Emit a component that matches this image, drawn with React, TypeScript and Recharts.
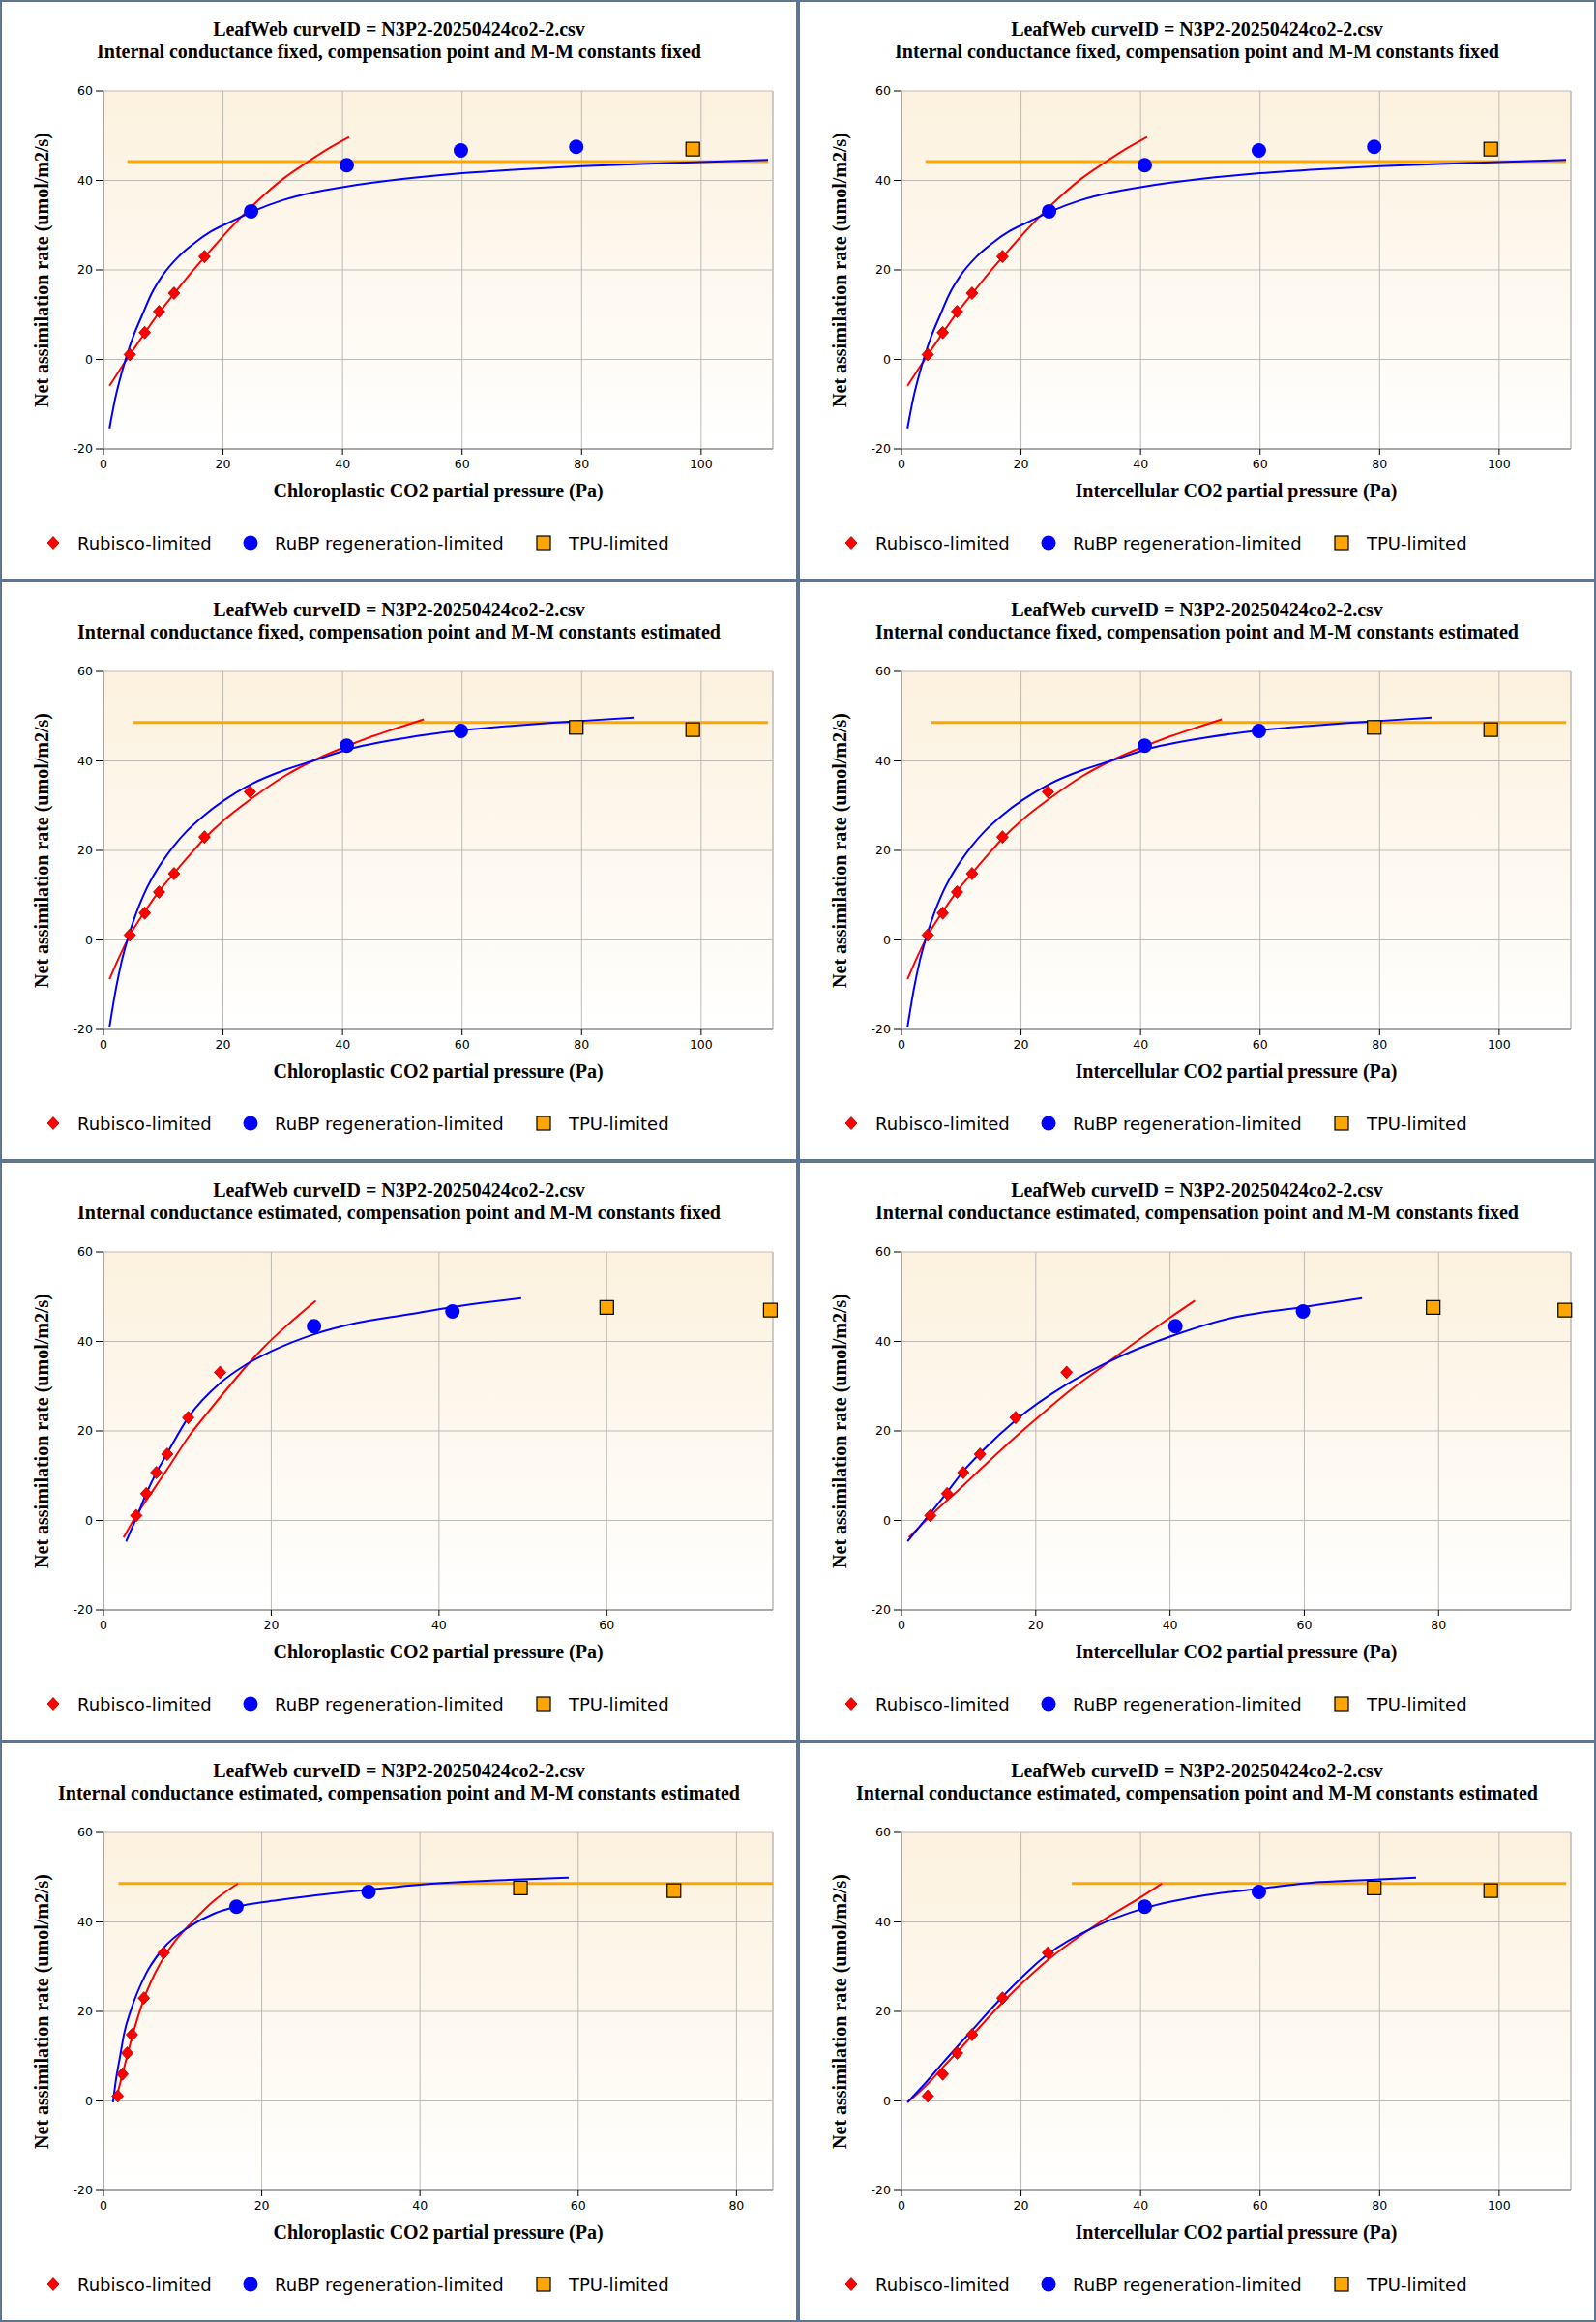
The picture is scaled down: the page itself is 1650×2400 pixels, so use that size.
import { ComposedChart, Line, Scatter, XAxis, YAxis, CartesianGrid, ReferenceLine } from 'recharts'

document.body.style.margin = '0'

type XY = [number, number]

// ---- titles / labels ----
const TITLE = 'LeafWeb curveID = N3P2-20250424co2-2.csv'
const SUB_FIX_FIX = 'Internal conductance fixed, compensation point and M-M constants fixed'
const SUB_FIX_EST = 'Internal conductance fixed, compensation point and M-M constants estimated'
const SUB_EST_FIX = 'Internal conductance estimated, compensation point and M-M constants fixed'
const SUB_EST_EST = 'Internal conductance estimated, compensation point and M-M constants estimated'
const X_CC = 'Chloroplastic CO2 partial pressure (Pa)'
const X_CI = 'Intercellular CO2 partial pressure (Pa)'
const Y_LABEL = 'Net assimilation rate (umol/m2/s)'
const LEGEND_LABELS = ['Rubisco-limited', 'RuBP regeneration-limited', 'TPU-limited']

// ---- ticks ----
const yTicks = [-20, 0, 20, 40, 60]
const ticks100 = [0, 20, 40, 60, 80, 100]
const ticks80 = [0, 20, 40, 60, 80]
const ticks60 = [0, 20, 40, 60]

// ---- gm fixed, constants fixed (Cc and Ci panels look the same) ----
const ffRubPts: XY[] = [[4.4, 1.1], [6.9, 6.0], [9.3, 10.7], [11.8, 14.8], [16.9, 23.0]]
const ffRubpPts: XY[] = [[24.7, 33.1], [40.7, 43.4], [59.8, 46.7], [79.1, 47.5]]
const ffTpuPts: XY[] = [[98.6, 47.0]]
const ffRubCurve: XY[] = [[1, -5.9], [3, -1.8], [5, 2.2], [7, 6.1], [9, 9.9], [12, 15.0], [15, 19.9], [18, 24.5], [21, 29.0], [24, 33.1], [27, 36.9], [30, 40.3], [34, 44.0], [37.5, 47.0], [41.1, 49.7]]
const ffRubpCurve: XY[] = [[1, -15.4], [2, -8.5], [3, -3.2], [4, 1.3], [5, 5.2], [6.5, 10], [8, 14.6], [10, 19], [12.5, 22.9], [15, 25.8], [18, 28.6], [22, 31.2], [25, 33.1], [30, 35.6], [35, 37.3], [40, 38.5], [50, 40.3], [60, 41.6], [70, 42.5], [80, 43.2], [90, 43.7], [100, 44.1], [111.2, 44.6]]
const ffTpuLine: XY[] = [[4.0, 44.2], [111.2, 44.2]]

// ---- gm fixed, constants estimated ----
const feRubPts: XY[] = [[4.4, 1.1], [6.9, 6.0], [9.3, 10.7], [11.8, 14.8], [16.9, 23.0], [24.5, 33.1]]
const feRubpPts: XY[] = [[40.7, 43.4], [59.8, 46.7]]
const feTpuPts: XY[] = [[79.1, 47.5], [98.6, 47.0]]
const feRubCurve: XY[] = [[1, -8.8], [2.5, -4.2], [4.4, 1.0], [6.9, 6.3], [9.3, 10.9], [11.8, 14.9], [14.5, 19.1], [17, 22.8], [20, 26.6], [24.7, 31.5], [30.4, 36.7], [35, 40.0], [40.7, 43.3], [45, 45.5], [49, 47.3], [53.6, 49.3]]
const feRubpCurve: XY[] = [[1, -19.5], [2, -11.5], [3, -5.0], [4, 0], [5, 4.2], [6, 7.8], [7, 10.9], [8.3, 14.2], [10, 17.8], [11.7, 20.9], [14, 24.4], [16.8, 27.8], [20.2, 31.2], [24.7, 34.8], [30.4, 38.0], [35.5, 40.2], [40.7, 42.5], [50.8, 45.2], [59.8, 46.8], [67.8, 47.8], [74.6, 48.5], [80.6, 49.0], [88.7, 49.7]]
const feTpuLine: XY[] = [[5.0, 48.6], [111.2, 48.6]]

// ---- gm estimated, constants fixed, Cc ----
const efCcRubPts: XY[] = [[3.9, 1.1], [5.1, 6.0], [6.3, 10.7], [7.6, 14.8], [10.1, 23.0], [13.9, 33.1]]
const efCcRubpPts: XY[] = [[25.1, 43.4], [41.6, 46.7]]
const efCcTpuPts: XY[] = [[60.0, 47.6], [79.5, 47.0]]
const efCcRubCurve: XY[] = [[2.4, -3.8], [3.9, 1.1], [6, 7.0], [8, 12.6], [10.1, 18.6], [12.5, 24.3], [15, 30.0], [16.8, 34.0], [19, 38.5], [22, 43.8], [25.3, 49.1]]
const efCcRubpCurve: XY[] = [[2.7, -4.7], [3.9, 0.5], [5.1, 6.0], [6.3, 10.7], [7.6, 15.0], [10.1, 23.0], [13.9, 30.7], [16.8, 34.6], [20, 37.8], [25.1, 41.6], [30.1, 44.1], [36.2, 46.0], [41.6, 47.7], [49.8, 49.7]]

// ---- gm estimated, constants fixed, Ci ----
const efCiRubPts: XY[] = [[4.3, 1.1], [6.8, 6.0], [9.2, 10.7], [11.7, 14.8], [17.0, 23.0], [24.6, 33.1]]
const efCiRubpPts: XY[] = [[40.8, 43.4], [59.8, 46.7]]
const efCiTpuPts: XY[] = [[79.2, 47.6], [98.8, 47.0]]
const efCiRubCurve: XY[] = [[1.1, -3.8], [4.3, 1.0], [9.2, 7.8], [13, 13.2], [17, 18.7], [21, 23.9], [25, 28.9], [30.1, 34.6], [35, 40.0], [39.5, 44.8], [43.7, 49.1]]
const efCiRubpCurve: XY[] = [[0.9, -4.7], [4.3, 1.6], [6.8, 6.3], [9.2, 11.0], [11.7, 15.0], [17.0, 22.4], [24.6, 30.4], [30.1, 34.9], [40.8, 41.5], [49, 45.2], [59.8, 47.7], [68.6, 49.7]]

// ---- gm estimated, constants estimated, Cc ----
const eeCcRubPts: XY[] = [[1.8, 1.1], [2.4, 6.0], [3.0, 10.7], [3.6, 14.8], [5.1, 23.0], [7.6, 33.1]]
const eeCcRubpPts: XY[] = [[16.8, 43.4], [33.5, 46.7]]
const eeCcTpuPts: XY[] = [[52.7, 47.6], [72.1, 47.0]]
const eeCcRubCurve: XY[] = [[1.6, 0.5], [2.4, 6.0], [3.0, 10.2], [3.6, 14.2], [5.1, 22.8], [6.2, 27.4], [7.6, 32.0], [9.4, 36.5], [11.1, 39.8], [14.0, 44.8], [17.0, 48.6]]
const eeCcRubpCurve: XY[] = [[1.2, -0.3], [1.6, 5.0], [2.1, 10.0], [2.6, 15.0], [3.5, 20.5], [5.3, 28.2], [7.5, 34.0], [10.9, 39.0], [14.0, 41.9], [16.8, 43.4], [22.3, 44.9], [28.7, 46.3], [33.5, 47.2], [40.3, 48.4], [51.2, 49.4], [58.8, 49.9]]
const eeCcTpuLine: XY[] = [[1.9, 48.6], [84.6, 48.6]]

// ---- gm estimated, constants estimated, Ci ----
const eeCiRubPts: XY[] = [[4.4, 1.1], [6.9, 6.0], [9.3, 10.7], [11.8, 14.8], [16.9, 23.0], [24.5, 33.1]]
const eeCiRubpPts: XY[] = [[40.7, 43.4], [59.8, 46.7]]
const eeCiTpuPts: XY[] = [[79.1, 47.6], [98.6, 47.0]]
const eeCiRubCurve: XY[] = [[1.0, -0.3], [4.4, 3.8], [6.9, 7.5], [9.3, 10.9], [11.8, 14.6], [16.9, 22.0], [24.5, 31.5], [32.5, 39.3], [40.7, 46.1], [43.6, 48.6]]
const eeCiRubpCurve: XY[] = [[1.0, -0.3], [4.4, 4.6], [6.9, 8.5], [9.3, 12.1], [11.8, 15.8], [16.9, 23.3], [24.5, 32.8], [32.5, 39.0], [40.7, 43.1], [50, 45.8], [59.8, 47.4], [70, 48.9], [80, 49.5], [86.1, 49.9]]
const eeCiTpuLine: XY[] = [[28.5, 48.6], [111.2, 48.6]]

interface PanelCfg {
  sub: string
  xLabel: string
  xMax: number
  xTicks: number[]
  rubPts: XY[]
  rubpPts: XY[]
  tpuPts: XY[]
  rubCurve: XY[]
  rubpCurve: XY[]
  tpuLine?: XY[]
}

const PANELS: PanelCfg[] = [
  { sub: SUB_FIX_FIX, xLabel: X_CC, xMax: 112, xTicks: ticks100, rubPts: ffRubPts, rubpPts: ffRubpPts, tpuPts: ffTpuPts, rubCurve: ffRubCurve, rubpCurve: ffRubpCurve, tpuLine: ffTpuLine },
  { sub: SUB_FIX_FIX, xLabel: X_CI, xMax: 112, xTicks: ticks100, rubPts: ffRubPts, rubpPts: ffRubpPts, tpuPts: ffTpuPts, rubCurve: ffRubCurve, rubpCurve: ffRubpCurve, tpuLine: ffTpuLine },
  { sub: SUB_FIX_EST, xLabel: X_CC, xMax: 112, xTicks: ticks100, rubPts: feRubPts, rubpPts: feRubpPts, tpuPts: feTpuPts, rubCurve: feRubCurve, rubpCurve: feRubpCurve, tpuLine: feTpuLine },
  { sub: SUB_FIX_EST, xLabel: X_CI, xMax: 112, xTicks: ticks100, rubPts: feRubPts, rubpPts: feRubpPts, tpuPts: feTpuPts, rubCurve: feRubCurve, rubpCurve: feRubpCurve, tpuLine: feTpuLine },
  { sub: SUB_EST_FIX, xLabel: X_CC, xMax: 79.8, xTicks: ticks60, rubPts: efCcRubPts, rubpPts: efCcRubpPts, tpuPts: efCcTpuPts, rubCurve: efCcRubCurve, rubpCurve: efCcRubpCurve },
  { sub: SUB_EST_FIX, xLabel: X_CI, xMax: 99.7, xTicks: ticks80, rubPts: efCiRubPts, rubpPts: efCiRubpPts, tpuPts: efCiTpuPts, rubCurve: efCiRubCurve, rubpCurve: efCiRubpCurve },
  { sub: SUB_EST_EST, xLabel: X_CC, xMax: 84.6, xTicks: ticks80, rubPts: eeCcRubPts, rubpPts: eeCcRubpPts, tpuPts: eeCcTpuPts, rubCurve: eeCcRubCurve, rubpCurve: eeCcRubpCurve, tpuLine: eeCcTpuLine },
  { sub: SUB_EST_EST, xLabel: X_CI, xMax: 112, xTicks: ticks100, rubPts: eeCiRubPts, rubpPts: eeCiRubpPts, tpuPts: eeCiTpuPts, rubCurve: eeCiRubCurve, rubpCurve: eeCiRubpCurve, tpuLine: eeCiTpuLine },
]

const COLORS = {
  rubisco: '#ff0000',
  rubp: '#0000ff',
  tpu: '#ffa500',
  border: '#5f7592',
  grid: '#bdbab4',
  axis: '#777777',
}

const SERIF = '"Liberation Serif", "Times New Roman", serif'
const SANS = '"DejaVu Sans", Verdana, sans-serif'

const W = 821
const H = 596

const toPts = (arr: XY[]) => arr.map(([x, y]) => ({ x, y }))

const Diamond = (props: any) => {
  const { cx, cy } = props
  if (cx == null || cy == null) return null
  return <path d={`M${cx},${cy - 6.5}L${cx + 6},${cy}L${cx},${cy + 6.5}L${cx - 6},${cy}Z`} fill={COLORS.rubisco} stroke="#b00000" strokeWidth={0.8} />
}

const Dot = (props: any) => {
  const { cx, cy } = props
  if (cx == null || cy == null) return null
  return <circle cx={cx} cy={cy} r={7.5} fill={COLORS.rubp} />
}

const Square = (props: any) => {
  const { cx, cy } = props
  if (cx == null || cy == null) return null
  return <rect x={cx - 7} y={cy - 7} width={14} height={14} fill={COLORS.tpu} stroke="#000" strokeWidth={1.2} />
}

function Panel({ cfg, idx, left, top }: { cfg: PanelCfg; idx: number; left: number; top: number }) {
  const gradId = `plotBg${idx}`
  const tickStyle = { fontFamily: SANS, fontSize: 12.5, fill: '#000' }
  const labelStyle = { fontFamily: SERIF, fontSize: 20, fontWeight: 'bold' as const, fill: '#000' }
  return (
    <div style={{ position: 'absolute', left, top, width: W, height: H, background: '#fff', overflow: 'hidden' }}>
      <div style={{ position: 'absolute', left: 0, top: 0 }}>
        <ComposedChart width={W} height={H} margin={{ top: 92, right: 24, bottom: 84, left: 0 }}>
          <defs>
            <linearGradient id={gradId} x1="0" y1="0" x2="0" y2="1">
              <stop offset="0%" stopColor="#fcf1de" />
              <stop offset="100%" stopColor="#ffffff" />
            </linearGradient>
          </defs>
          <CartesianGrid stroke={COLORS.grid} fill={`url(#${gradId})`} />
          <XAxis
            type="number"
            dataKey="x"
            domain={[0, cfg.xMax]}
            ticks={cfg.xTicks}
            height={50}
            tickSize={6}
            tickMargin={5}
            tick={tickStyle}
            axisLine={{ stroke: COLORS.axis }}
            tickLine={{ stroke: '#000' }}
            label={{
              content: (p: any) => {
                const vb = p.viewBox || { x: 105, y: 462, width: 692, height: 50 }
                return (
                  <text x={vb.x + vb.width / 2} y={vb.y + 43} textAnchor="middle" dominantBaseline="central" style={labelStyle}>
                    {cfg.xLabel}
                  </text>
                )
              },
            }}
          />
          <YAxis
            type="number"
            dataKey="y"
            domain={[-20, 60]}
            ticks={yTicks}
            width={105}
            tickSize={8}
            tickMargin={3}
            tick={tickStyle}
            axisLine={{ stroke: COLORS.axis }}
            tickLine={{ stroke: '#000' }}
            label={{
              content: (p: any) => {
                const vb = p.viewBox || { x: 0, y: 92, width: 105, height: 370 }
                const cx = vb.x + 41
                const cy = vb.y + vb.height / 2
                return (
                  <text x={cx} y={cy} transform={`rotate(-90 ${cx} ${cy})`} textAnchor="middle" dominantBaseline="central" style={labelStyle}>
                    {Y_LABEL}
                  </text>
                )
              },
            }}
          />
          <ReferenceLine x={cfg.xMax} stroke={COLORS.grid} />
          {cfg.tpuLine && (
            <Line data={toPts(cfg.tpuLine)} dataKey="y" type="linear" stroke={COLORS.tpu} strokeWidth={3} dot={false} isAnimationActive={false} />
          )}
          <Line data={toPts(cfg.rubCurve)} dataKey="y" type="monotone" stroke={COLORS.rubisco} strokeWidth={2} dot={false} isAnimationActive={false} />
          <Line data={toPts(cfg.rubpCurve)} dataKey="y" type="monotone" stroke={COLORS.rubp} strokeWidth={2} dot={false} isAnimationActive={false} />
          <Scatter data={toPts(cfg.rubPts)} dataKey="y" shape={Diamond} isAnimationActive={false} />
          <Scatter data={toPts(cfg.rubpPts)} dataKey="y" shape={Dot} isAnimationActive={false} />
          <Scatter data={toPts(cfg.tpuPts)} dataKey="y" shape={Square} isAnimationActive={false} />
        </ComposedChart>
      </div>
      <div
        style={{
          position: 'absolute',
          left: 0,
          top: 17,
          width: W,
          textAlign: 'center',
          fontFamily: SERIF,
          fontWeight: 'bold',
          fontSize: 20,
          lineHeight: '23px',
          color: '#000',
        }}
      >
        <div>{TITLE}</div>
        <div>{cfg.sub}</div>
      </div>
      <svg width={W} height={40} style={{ position: 'absolute', left: 0, top: 539 }}>
        <path d="M53,13.5L59,20L53,26.5L47,20Z" fill={COLORS.rubisco} stroke="#b00000" strokeWidth={0.8} />
        <text x={78} y={20} dominantBaseline="central" style={{ fontFamily: SANS, fontSize: 18 }}>{LEGEND_LABELS[0]}</text>
        <circle cx={257} cy={20} r={7.5} fill={COLORS.rubp} />
        <text x={282} y={20} dominantBaseline="central" style={{ fontFamily: SANS, fontSize: 18 }}>{LEGEND_LABELS[1]}</text>
        <rect x={553} y={13} width={14} height={14} fill={COLORS.tpu} stroke="#000" strokeWidth={1.2} />
        <text x={586} y={20} dominantBaseline="central" style={{ fontFamily: SANS, fontSize: 18 }}>{LEGEND_LABELS[2]}</text>
      </svg>
    </div>
  )
}

export default function App() {
  return (
    <div style={{ position: 'relative', width: 1650, height: 2400, background: COLORS.border }}>
      {PANELS.map((cfg, i) => {
        const col = i % 2
        const row = Math.floor(i / 2)
        return <Panel key={i} cfg={cfg} idx={i} left={col === 0 ? 2 : 827} top={row * 600 + 2} />
      })}
    </div>
  )
}
